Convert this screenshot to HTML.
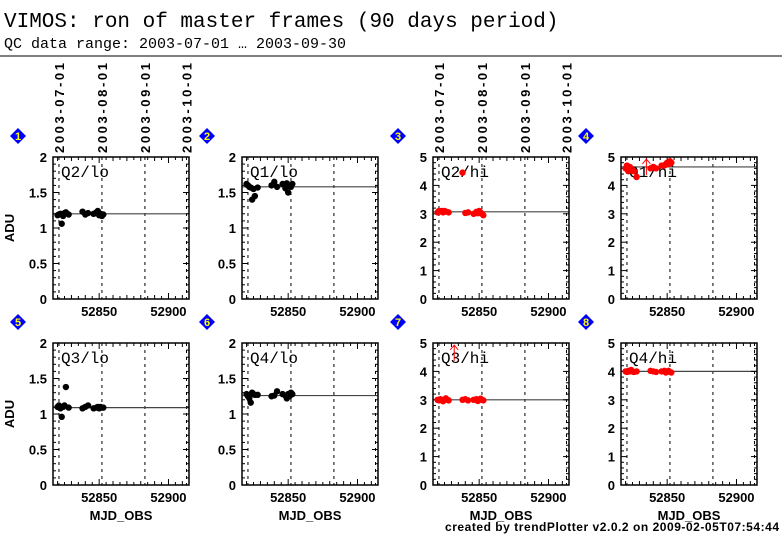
<!DOCTYPE html>
<html><head><meta charset="utf-8">
<style>
body{margin:0;background:#fff;width:782px;height:542px;overflow:hidden}
svg{display:block}
.tt{font-family:"Liberation Mono",monospace}
.tk{font-family:"Liberation Sans",sans-serif;font-weight:bold;font-size:13px}
</style></head><body>
<svg id="c" width="782" height="542" xmlns="http://www.w3.org/2000/svg">
<text class="tt" x="4" y="27" font-size="21">VIMOS: ron of master frames (90 days period)</text>
<text class="tt" x="4" y="48" font-size="15">QC data range: 2003-07-01 … 2003-09-30</text>
<line x1="0" y1="56" x2="782" y2="56" stroke="#000" stroke-width="1"/>
<text class="tk" x="779" y="531" text-anchor="end" style="font-size:12px" textLength="334">created by trendPlotter v2.0.2 on 2009-02-05T07:54:44</text>
</svg>
<script>
const mjd=[52820,52821,52822,52823,52824,52825,52826,52828,52838,52840,52842,52846,52848,52849,52850,52851,52852,52853];
const labels=["Q2/lo","Q1/lo","Q2/hi","Q1/hi","Q3/lo","Q4/lo","Q3/hi","Q4/hi"];
const refs=[1.20,1.58,3.07,4.65,1.09,1.26,3.00,4.00];
const ymaxs=[2,2,5,5,2,2,5,5];
const v1=[1.18,1.19,1.2,1.06,1.17,1.21,1.22,1.19,1.23,1.19,1.21,1.2,1.22,1.24,1.18,1.2,1.17,1.19];
const v2=[1.62,1.6,1.58,1.57,1.4,1.55,1.45,1.57,1.6,1.65,1.58,1.62,1.56,1.63,1.5,1.6,1.58,1.62];
const v3=[3.05,3.1,3.08,3.1,3.05,3.1,3.08,3.05,4.45,3.03,3.05,3.0,3.07,3.02,3.1,3.05,3.0,2.95];
const v4=[4.6,4.7,4.5,4.65,4.6,4.55,4.5,4.3,4.6,4.65,4.6,4.7,4.7,4.75,4.8,4.75,4.85,4.8];
const v5=[1.1,1.12,1.08,0.96,1.1,1.12,1.38,1.09,1.08,1.1,1.12,1.08,1.09,1.1,1.08,1.1,1.09,1.09];
const v6=[1.28,1.25,1.22,1.16,1.3,1.28,1.27,1.27,1.25,1.26,1.32,1.28,1.26,1.22,1.28,1.25,1.3,1.28];
const v7=[3.0,2.98,3.02,3.0,2.95,3.0,3.05,2.98,3.0,3.02,2.98,3.0,3.02,2.96,3.0,3.04,3.0,2.98];
const v8=[4.0,3.98,4.02,4.0,4.05,4.0,3.98,4.0,4.02,4.0,3.98,4.0,4.02,3.96,4.0,4.02,3.98,3.96];
const series=[v1,v2,v3,v4,v5,v6,v7,v8];
const colors=["#000","#000","#f00","#f00","#000","#000","#f00","#f00"];
const dateTicks=[52821,52852,52883,52913];
const dateLabels=["2003-07-01","2003-08-01","2003-09-01","2003-10-01"];
const xTicks=[52850,52900];
const arrows=[null,null,null,52835,null,null,52832,null];

const NS="http://www.w3.org/2000/svg";
const svg=document.getElementById('c');
const colX=[53,242,433,621], rowY=[[157,299],[343,485]], PW=136;
const X0=52816.7,X1=52914.8;
function mk(t,a,p){const e=document.createElementNS(NS,t);for(const k in a)e.setAttribute(k,a[k]);(p||svg).appendChild(e);return e;}
for(let i=0;i<8;i++){
  const col=i%4,row=Math.floor(i/4);
  const L=colX[col],R=L+PW,T=rowY[row][0],B=rowY[row][1];
  const ym=ymaxs[i];
  const sx=m=>L+(m-X0)/(X1-X0)*PW;
  const sy=v=>B-v/ym*(B-T);
  const g=mk('g',{});
  
  
  dateTicks.forEach((d,k)=>{const l=mk('line',{x1:sx(d),x2:sx(d),y1:T,y2:B,stroke:'#000','stroke-width':1,'stroke-dasharray':'3,4'},g);
    });
  const rl=mk('line',{x1:L,x2:R,y1:sy(refs[i]),y2:sy(refs[i]),stroke:'#444','stroke-width':1.2},g);
  
  const step=ym===2?0.5:1, minor=ym===2?0.1:0.2;
  for(let v=0;v<=ym+1e-9;v+=minor){const major=Math.abs(v/step-Math.round(v/step))<1e-6;const len=major?6:3;
    mk('line',{x1:L,x2:L+len,y1:sy(v),y2:sy(v),stroke:'#000'},g);mk('line',{x1:R,x2:R-len,y1:sy(v),y2:sy(v),stroke:'#000'},g);
    if(major){const t=mk('text',{x:L-6,y:sy(v)+5,'text-anchor':'end',class:'tk'},g);t.textContent=(Math.round(v*10)/10).toString();
      }}
  for(let m=52820;m<=52910;m+=10){const major=m%50===0;const len=major?6:4;
    mk('line',{x1:sx(m),x2:sx(m),y1:B,y2:B-len,stroke:'#000'},g);mk('line',{x1:sx(m),x2:sx(m),y1:T,y2:T+len,stroke:'#000'},g);}
  for(let m=52815;m<=52915;m+=5){if(m<X0||m>X1||m%10===0)continue;
    mk('line',{x1:sx(m),x2:sx(m),y1:B,y2:B-3,stroke:'#000'},g);mk('line',{x1:sx(m),x2:sx(m),y1:T,y2:T+3,stroke:'#000'},g);}
  xTicks.forEach(m=>{const t=mk('text',{x:sx(m),y:B+17,'text-anchor':'middle',class:'tk'},g);t.textContent=m;
    });
  const fr=mk('rect',{x:L,y:T,width:PW,height:B-T,fill:'none',stroke:'#000','stroke-width':1.5},g);
  
  const lb=mk('text',{x:L+8,y:T+20,class:'tt','font-size':16},g);lb.textContent=labels[i];
  
  series[i].forEach((v,k)=>{const c=mk('circle',{cx:sx(mjd[k]),cy:sy(v),r:3.2,fill:colors[i]},g);
    });
  if(arrows[i]!==null){const ax=sx(arrows[i]);
    const a=mk('path',{d:`M${ax},${T+18} L${ax},${T+2} M${ax-4},${T+7} L${ax},${T+2} L${ax+4},${T+7}`,stroke:'#f00',fill:'none'},g);
    }
  const bx=L-35,by=T-21;
  const d=mk('path',{d:`M${bx},${by-8} L${bx+8},${by} L${bx},${by+8} L${bx-8},${by}Z`,fill:'#00f'},g);
  
  const dt=mk('text',{x:bx,y:by+4,'text-anchor':'middle',fill:'#ff0',style:'font-size:11px',class:'tk'},g);dt.textContent=i+1;
  
  if(col===0){const t=mk('text',{x:14,y:(T+B)/2,'text-anchor':'middle',class:'tk',transform:`rotate(-90 14 ${(T+B)/2})`},g);t.textContent='ADU';
    }
  if(row===1){const t=mk('text',{x:(L+R)/2,y:B+35,'text-anchor':'middle',class:'tk'},g);t.textContent='MJD_OBS';
    }
  if(row===0&&(col===0||col===2)){dateTicks.forEach((dd,k)=>{const x=sx(dd)+5,y=T-4;
    const t=mk('text',{x:x,y:y,class:'tk',transform:`rotate(-90 ${x} ${y})`,textLength:'90'},g);t.textContent=dateLabels[k];
    });}
}
</script>
</body></html>
